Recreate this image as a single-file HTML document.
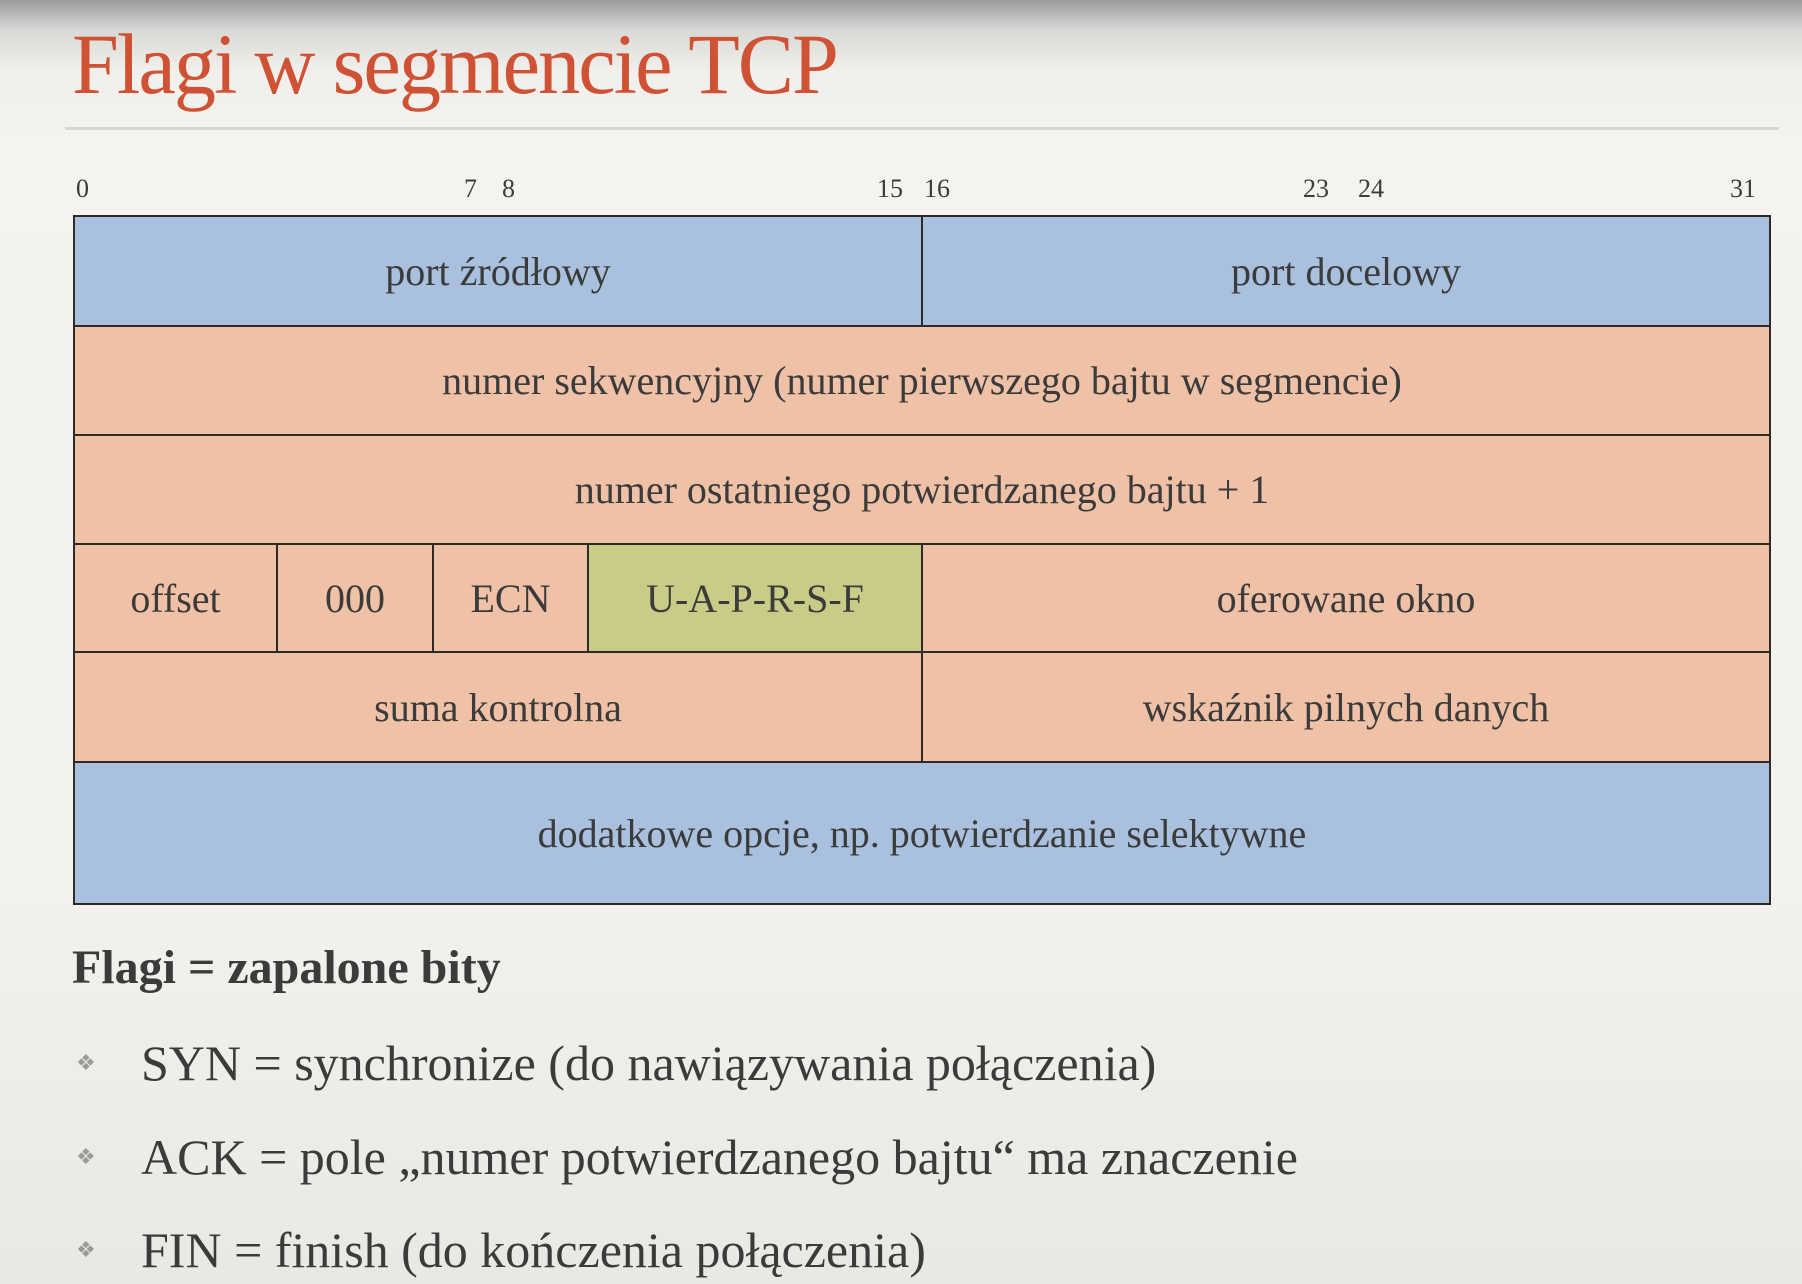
<!DOCTYPE html>
<html><head><meta charset="utf-8"><style>
html,body{margin:0;padding:0}
body{width:1802px;height:1284px;position:relative;overflow:hidden;font-family:"Liberation Serif",serif;color:#3b3b3b;
background:linear-gradient(to bottom,#9c9c9c 0px,#d8d8d6 30px,#f0efeb 70px,#f4f3ef 140px,#f2f1ed 900px,#e9e8e4 1284px);}
.t{position:absolute;left:72px;top:14px;font-size:86px;color:#cf5234;letter-spacing:-2px;white-space:nowrap;transform:scaleX(0.98);transform-origin:left top}
.hr{position:absolute;left:65px;top:127px;width:1714px;height:3px;background:#d8d6d2}
.n{position:absolute;top:174px;font-size:26px;white-space:nowrap}
.c{position:absolute;box-sizing:border-box;border:2px solid #2e2a28;display:flex;align-items:center;justify-content:center;font-size:40px;white-space:nowrap}
.b{background:#a9c1de}.s{background:#efc1a6}.g{background:#c8cc86}
.h{position:absolute;left:72px;top:940px;font-size:48px;font-weight:bold;white-space:nowrap}
.li{position:absolute;left:141px;font-size:50px;white-space:nowrap}
.d{position:absolute;left:76px;font-size:22px;color:#9a9a9a}
</style></head><body>
<div class="t">Flagi w segmencie TCP</div>
<div class="hr"></div>
<div class="n" style="left:76px">0</div>
<div class="n" style="left:464px">7</div>
<div class="n" style="left:502px">8</div>
<div class="n" style="left:877px">15</div>
<div class="n" style="left:924px">16</div>
<div class="n" style="left:1303px">23</div>
<div class="n" style="left:1358px">24</div>
<div class="n" style="left:1730px">31</div>

<div class="c b" style="left:73px;top:215px;width:850px;height:112px">port źródłowy</div>
<div class="c b" style="left:921px;top:215px;width:850px;height:112px">port docelowy</div>
<div class="c s" style="left:73px;top:325px;width:1698px;height:111px">numer sekwencyjny (numer pierwszego bajtu w segmencie)</div>
<div class="c s" style="left:73px;top:434px;width:1698px;height:111px">numer ostatniego potwierdzanego bajtu + 1</div>
<div class="c s" style="left:73px;top:543px;width:205px;height:110px">offset</div>
<div class="c s" style="left:276px;top:543px;width:158px;height:110px">000</div>
<div class="c s" style="left:432px;top:543px;width:157px;height:110px">ECN</div>
<div class="c g" style="left:587px;top:543px;width:336px;height:110px">U-A-P-R-S-F</div>
<div class="c s" style="left:921px;top:543px;width:850px;height:110px">oferowane okno</div>
<div class="c s" style="left:73px;top:651px;width:850px;height:112px">suma kontrolna</div>
<div class="c s" style="left:921px;top:651px;width:850px;height:112px">wskaźnik pilnych danych</div>
<div class="c b" style="left:73px;top:761px;width:1698px;height:144px">dodatkowe opcje, np. potwierdzanie selektywne</div>

<div class="h">Flagi = zapalone bity</div>
<div class="d" style="top:1050px">❖</div><div class="li" style="top:1034px">SYN = synchronize (do nawiązywania połączenia)</div>
<div class="d" style="top:1144px">❖</div><div class="li" style="top:1128px">ACK = pole „numer potwierdzanego bajtu“ ma znaczenie</div>
<div class="d" style="top:1237px">❖</div><div class="li" style="top:1221px">FIN = finish (do kończenia połączenia)</div>
</body></html>
